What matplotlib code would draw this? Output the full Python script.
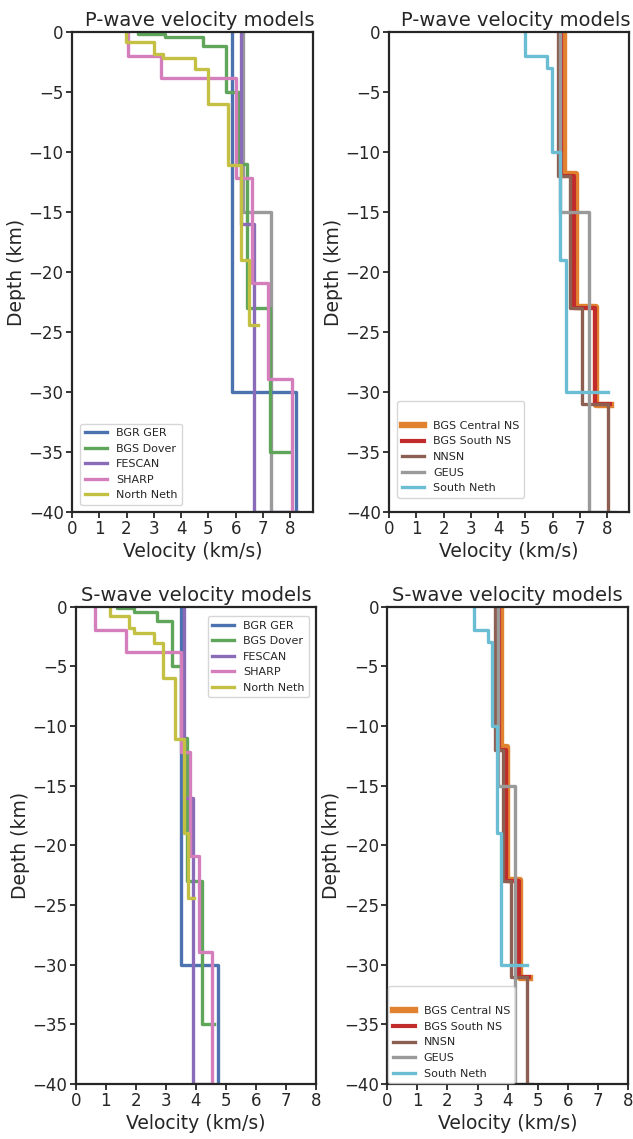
import numpy as np
import matplotlib
matplotlib.use("Agg")
import matplotlib.pyplot as plt

# layer tops (km) and velocities (km/s)
bgr_depth = [0, 30, 40]
bgr_vp = [5.87, 8.2, 8.2]
bgr_vs = [3.5, 4.75, 4.75]

dover_depth = [0, 0.15, 0.45, 1.2, 5.0, 11.0, 23.0, 35.0]
dover_vp = [2.43, 3.41, 4.8, 5.66, 6.13, 6.43, 7.24, 8.0]
dover_vs = [1.37, 1.95, 2.7, 3.22, 3.52, 3.70, 4.2, 4.59]

fescan_depth = [0, 16, 40]
fescan_vp = [6.19, 6.68, 8.22]
fescan_vs = [3.59, 3.89, 4.53]

sharp_depth = [0, 2.0, 3.8, 12.2, 20.9, 28.9, 40]
sharp_vp = [2.06, 3.28, 6.02, 6.58, 7.19, 8.05, 8.05]
sharp_vs = [0.64, 1.67, 3.52, 3.81, 4.11, 4.53, 4.53]

nneth_depth = [0, 0.8, 1.8, 2.2, 3.05, 6.0, 11.1, 19.0, 24.45]
nneth_vp = [1.97, 3.0, 3.32, 4.5, 5.0, 5.73, 6.21, 6.48, 6.83]
nneth_vs = [1.14, 1.76, 1.95, 2.62, 2.92, 3.31, 3.61, 3.75, 3.95]

central_depth = [0, 11.8, 22.9, 31.1]
central_vp = [6.4, 6.84, 7.6, 8.13]
central_vs = [3.77, 3.99, 4.41, 4.74]

southns_depth = [0, 12.0, 23.0, 31.0]
southns_vp = [6.3, 6.78, 7.56, 8.1]
southns_vs = [3.72, 3.93, 4.38, 4.72]

nnsn_depth = [0, 12.0, 23.0, 31.0, 40]
nnsn_vp = [6.18, 6.62, 7.08, 8.04, 8.04]
nnsn_vs = [3.57, 3.84, 4.11, 4.63, 4.63]

geus_depth = [0, 15, 40]
geus_vp = [6.26, 7.31, 8.28]
geus_vs = [3.69, 4.24, 4.8]

sneth_depth = [0, 2.0, 3.0, 10.0, 19.0, 30.0]
sneth_vp = [4.98, 5.78, 5.98, 6.26, 6.48, 8.03]
sneth_vs = [2.89, 3.36, 3.47, 3.63, 3.77, 4.66]

C_BLUE = '#4C72B0'
C_GREEN = '#5FA55A'
C_PURPLE = '#8A6BB8'
C_PINK = '#D47FBC'
C_OLIVE = '#C4C043'
C_ORANGE = '#E0822F'
C_RED = '#C22B2B'
C_BROWN = '#8D5F52'
C_GRAY = '#9A9A9A'
C_CYAN = '#6BBDD3'

plt.rcParams['font.family'] = ['DejaVu Sans']
plt.rcParams['text.color'] = '#262626'
plt.rcParams['axes.labelcolor'] = '#262626'
plt.rcParams['xtick.color'] = '#262626'
plt.rcParams['ytick.color'] = '#262626'
plt.rcParams['axes.edgecolor'] = '#262626'


def profile(depth, vel):
    # vertical segment inside each layer, horizontal jump at each interface
    x = np.repeat(np.asarray(vel, float), 2)[:-1]
    y = np.repeat(np.asarray(depth, float), 2)[1:]
    return x, -y


def style(ax, title, xmax, tx=0.5):
    ax.set_xlim(0, xmax)
    ax.set_ylim(-40, 0)
    ax.set_xticks(range(0, 9))
    ax.set_yticks(range(-40, 1, 5))
    ax.set_title(title, fontsize=14, pad=4, x=tx)
    ax.set_xlabel('Velocity (km/s)', fontsize=13.5, labelpad=3)
    ax.set_ylabel('Depth (km)', fontsize=13.5, labelpad=2)
    ax.tick_params(labelsize=12, length=4, width=1.3, pad=2)
    for s in ax.spines.values():
        s.set_linewidth(1.6)


fig = plt.figure(figsize=(6.33, 11.39), dpi=100)
ax1 = fig.add_axes([0.1137, 0.5505, 0.3807, 0.4214])
ax2 = fig.add_axes([0.6145, 0.5505, 0.3791, 0.4214])
ax3 = fig.add_axes([0.1196, 0.0483, 0.3796, 0.4191])
ax4 = fig.add_axes([0.6118, 0.0483, 0.3803, 0.4191])

lw = 2.4

# P-wave, onshore models
ax1.plot(*profile(geus_depth, geus_vp), color=C_GRAY, lw=lw)
ax1.plot(*profile(bgr_depth, bgr_vp), color=C_BLUE, lw=lw, label='BGR GER')
ax1.plot(*profile(dover_depth, dover_vp), color=C_GREEN, lw=lw, label='BGS Dover')
ax1.plot(*profile(fescan_depth, fescan_vp), color=C_PURPLE, lw=lw, label='FESCAN')
ax1.plot(*profile(sharp_depth, sharp_vp), color=C_PINK, lw=lw, label='SHARP')
ax1.plot(*profile(nneth_depth, nneth_vp), color=C_OLIVE, lw=lw, label='North Neth')
style(ax1, 'P-wave velocity models', 8.83, tx=0.53)
ax1.legend(loc='lower left', bbox_to_anchor=(0.035, 0.015), borderaxespad=0,
           fontsize=8, handlelength=2.0)

# P-wave, offshore models
ax2.plot(*profile(central_depth, central_vp), color=C_ORANGE, lw=4.6, label='BGS Central NS')
ax2.plot(*profile(southns_depth, southns_vp), color=C_RED, lw=3, label='BGS South NS')
ax2.plot(*profile(nnsn_depth, nnsn_vp), color=C_BROWN, lw=lw, label='NNSN')
ax2.plot(*profile(geus_depth, geus_vp), color=C_GRAY, lw=lw, label='GEUS')
ax2.plot(*profile(sneth_depth, sneth_vp), color=C_CYAN, lw=lw, label='South Neth')
style(ax2, 'P-wave velocity models', 8.79, tx=0.53)
ax2.legend(loc='lower left', bbox_to_anchor=(0.035, 0.03), borderaxespad=0,
           fontsize=8, title=' ', title_fontsize=8)

# S-wave, onshore models
ax3.plot(*profile(bgr_depth, bgr_vs), color=C_BLUE, lw=lw, label='BGR GER')
ax3.plot(*profile(dover_depth, dover_vs), color=C_GREEN, lw=lw, label='BGS Dover')
ax3.plot(*profile(fescan_depth, fescan_vs), color=C_PURPLE, lw=lw, label='FESCAN')
ax3.plot(*profile(sharp_depth, sharp_vs), color=C_PINK, lw=lw, label='SHARP')
ax3.plot(*profile(nneth_depth, nneth_vs), color=C_OLIVE, lw=lw, label='North Neth')
style(ax3, 'S-wave velocity models', 8)
ax3.legend(loc='upper right', bbox_to_anchor=(0.972, 0.98), borderaxespad=0,
           fontsize=8)

# S-wave, offshore models
ax4.plot(*profile(central_depth, central_vs), color=C_ORANGE, lw=4.6, label='BGS Central NS')
ax4.plot(*profile(southns_depth, southns_vs), color=C_RED, lw=3, label='BGS South NS')
ax4.plot(*profile(nnsn_depth, nnsn_vs), color=C_BROWN, lw=lw, label='NNSN')
ax4.plot(*profile(geus_depth, geus_vs), color=C_GRAY, lw=lw, label='GEUS')
ax4.plot(*profile(sneth_depth, sneth_vs), color=C_CYAN, lw=lw, label='South Neth')
style(ax4, 'S-wave velocity models', 8)
ax4.legend(loc='lower left', bbox_to_anchor=(0.004, 0.002), borderaxespad=0,
           fontsize=8, title=' ', title_fontsize=8)

fig.savefig('out.png', dpi=100)
